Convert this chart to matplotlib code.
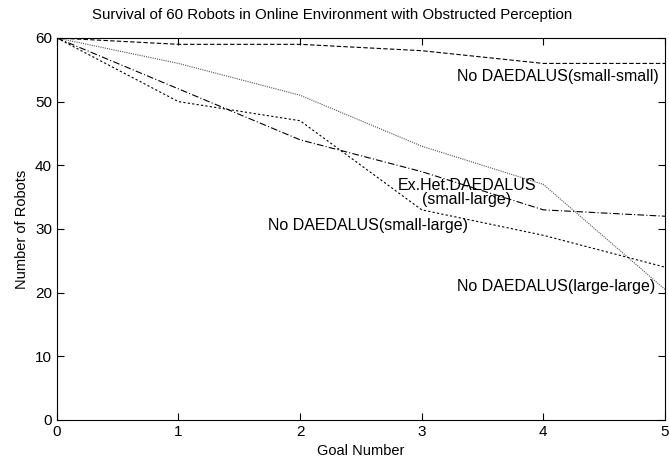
import matplotlib
matplotlib.use('Agg')
import matplotlib.pyplot as plt

plt.rcParams['font.family'] = ['Liberation Sans', 'DejaVu Sans']

goals = [0, 1, 2, 3, 4, 5]
small_small = [60, 59, 59, 58, 56, 56]
large_large = [60, 56, 51, 43, 37, 20.5]
exhet_small_large = [60, 52, 44, 39, 33, 32]
small_large = [60, 50, 47, 33, 29, 24]

fig = plt.figure(figsize=(6.69, 4.63), dpi=100)
ax = fig.add_axes([0.085, 0.093, 0.909, 0.825])

ax.plot(goals, small_small, color='black', linestyle=(0, (4, 2)), linewidth=0.8)
ax.plot(goals, large_large, color='#555555', linestyle=(0, (1, 1)), linewidth=0.8)
ax.plot(goals, exhet_small_large, color='black', linestyle=(0, (6, 2, 1, 2)), linewidth=0.8)
ax.plot(goals, small_large, color='black', linestyle=(0, (2, 2)), linewidth=0.8)

ax.text(4.95, 54, 'No DAEDALUS(small-small)', ha='right', va='center', fontsize=11.5)
ax.text(3.37, 36.9, 'Ex.Het.DAEDALUS', ha='center', va='center', fontsize=11.5)
ax.text(3.37, 34.6, '(small-large)', ha='center', va='center', fontsize=11.5)
ax.text(3.38, 30.6, 'No DAEDALUS(small-large)', ha='right', va='center', fontsize=11.5)
ax.text(4.92, 20.9, 'No DAEDALUS(large-large)', ha='right', va='center', fontsize=11.5)

ax.set_xlim(0, 5)
ax.set_ylim(0, 60)
ax.set_xticks(goals)
ax.set_yticks([0, 10, 20, 30, 40, 50, 60])
ax.tick_params(direction='in', top=True, right=True, labelsize=11, length=5)
ax.set_xlabel('Goal Number', fontsize=10.5)
ax.set_ylabel('Number of Robots', fontsize=10.5)

# title centred on the whole canvas, like the original
fig.text(0.497, 1 - 15 / 463, 'Survival of 60 Robots in Online Environment with Obstructed Perception',
         ha='center', va='center', fontsize=10.8)

fig.savefig('out.png', dpi=100)
